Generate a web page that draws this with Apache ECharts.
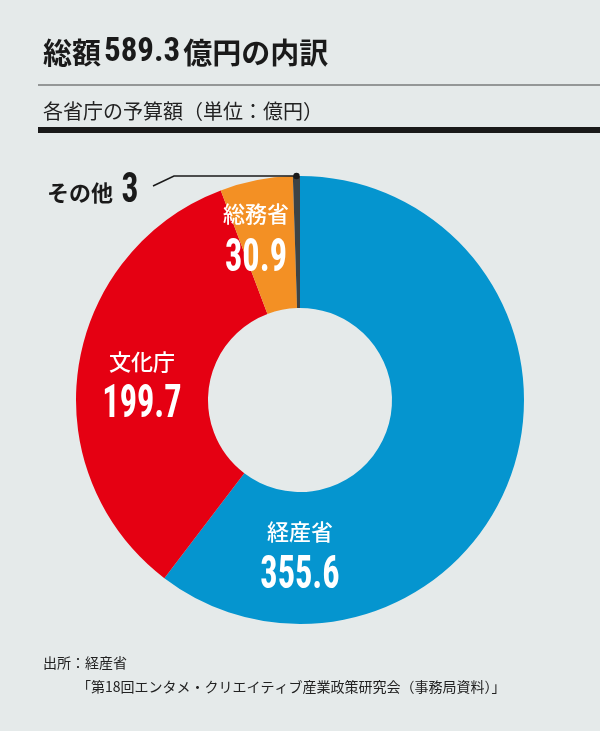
<!DOCTYPE html>
<html lang="ja">
<head>
    <meta charset="UTF-8">
    <title>総額589.3億円の内訳</title>
    <script src="https://cdn.jsdelivr.net/npm/echarts@6/dist/echarts.min.js"></script>
    <style>
        html, body { margin: 0; padding: 0; background: #e5eaea; }
        #main { width: 600px; height: 731px; }
    </style>
</head>
<body>
    <div id="main"></div>
    <script>
        // data (億円)
        var ministries = ['経産省', '文化庁', '総務省', 'その他'];
        var budgets = [355.6, 199.7, 30.9, 3];
        var sliceColors = ['#0595cf', '#e50012', '#f39024', '#3d4345'];

        // label anchors: [name centre x, name centre y, value centre y]
        var labelPos = [[300, 532, 576], [142, 362, 405], [256, 214, 259]];

        var jpFont = '"Noto Sans CJK JP", "Noto Sans", sans-serif';
        var numFont = '"Roboto Condensed", "Open Sans Condensed", sans-serif';

        var chart = echarts.init(document.getElementById('main'));

        // white labels inside the ring, digits squeezed like the print face
        var labels = [];
        for (var i = 0; i < 3; i++) {
            labels.push({
                type: 'text', z: 50, x: labelPos[i][0], y: labelPos[i][1],
                style: { text: ministries[i], fill: '#fff', font: '500 22px ' + jpFont, align: 'center', verticalAlign: 'middle' }
            });
            labels.push({
                type: 'text', z: 50, x: labelPos[i][0], y: labelPos[i][2], scaleX: 0.73,
                style: { text: String(budgets[i]), fill: '#fff', font: 'bold 47px ' + numFont, align: 'center', verticalAlign: 'middle' }
            });
        }

        var option = {
            backgroundColor: '#e5eaea',
            title: [{
                left: 38, top: 31,
                text: '{a|総額}{d|589.3}{a|億円の内訳}',
                textStyle: {
                    rich: {
                        a: { fontFamily: jpFont, fontSize: 29, fontWeight: 'bold', color: '#1a1a1a' },
                        d: { fontFamily: numFont, fontSize: 33, fontWeight: 'bold', color: '#1a1a1a', padding: [0, 3, 0, 3] }
                    }
                }
            }, {
                left: 38, top: 96,
                text: '各省庁の予算額（単位：億円）',
                textStyle: { fontFamily: jpFont, fontSize: 20, fontWeight: 'normal', color: '#222' }
            }, {
                left: 38, top: 651,
                text: '出所：経産省',
                textStyle: { fontFamily: jpFont, fontSize: 14, fontWeight: 'normal', color: '#222' }
            }, {
                left: 72, top: 675,
                text: '「第18回エンタメ・クリエイティブ産業政策研究会（事務局資料）」',
                textStyle: { fontFamily: jpFont, fontSize: 14, fontWeight: 'normal', color: '#222' }
            }],
            graphic: labels.concat([
                { type: 'line', shape: { x1: 38, y1: 85, x2: 600, y2: 85 }, style: { stroke: '#444', lineWidth: 1.2 } },
                { type: 'line', shape: { x1: 38, y1: 130, x2: 600, y2: 130 }, style: { stroke: '#1a1a1a', lineWidth: 6 } },
                // leader for その他
                { type: 'polyline', z: 60, shape: { points: [[296.5, 176], [174, 176], [153, 186]] },
                  style: { stroke: '#1a1a1a', lineWidth: 1.5, fill: null } },
                { type: 'circle', z: 61, shape: { cx: 296.5, cy: 176, r: 3.2 }, style: { fill: '#1a1a1a' } },
                { type: 'text', z: 60, x: 113, y: 193,
                  style: { text: ministries[3], fill: '#1a1a1a', font: 'bold 22px ' + jpFont, align: 'right', verticalAlign: 'middle' } },
                { type: 'text', z: 60, x: 130, y: 191, scaleX: 0.8,
                  style: { text: String(budgets[3]), fill: '#1a1a1a', font: 'bold 42px ' + numFont, align: 'center', verticalAlign: 'middle' } }
            ]),
            series: [{
                type: 'pie',
                center: [300, 400],
                radius: [92, 224],
                startAngle: 90,
                clockwise: true,
                silent: true,
                label: { show: false },
                labelLine: { show: false },
                data: ministries.map(function (name, i) {
                    return { name: name, value: budgets[i], itemStyle: { color: sliceColors[i] } };
                })
            }]
        };

        chart.setOption(option);
    </script>
</body>
</html>
